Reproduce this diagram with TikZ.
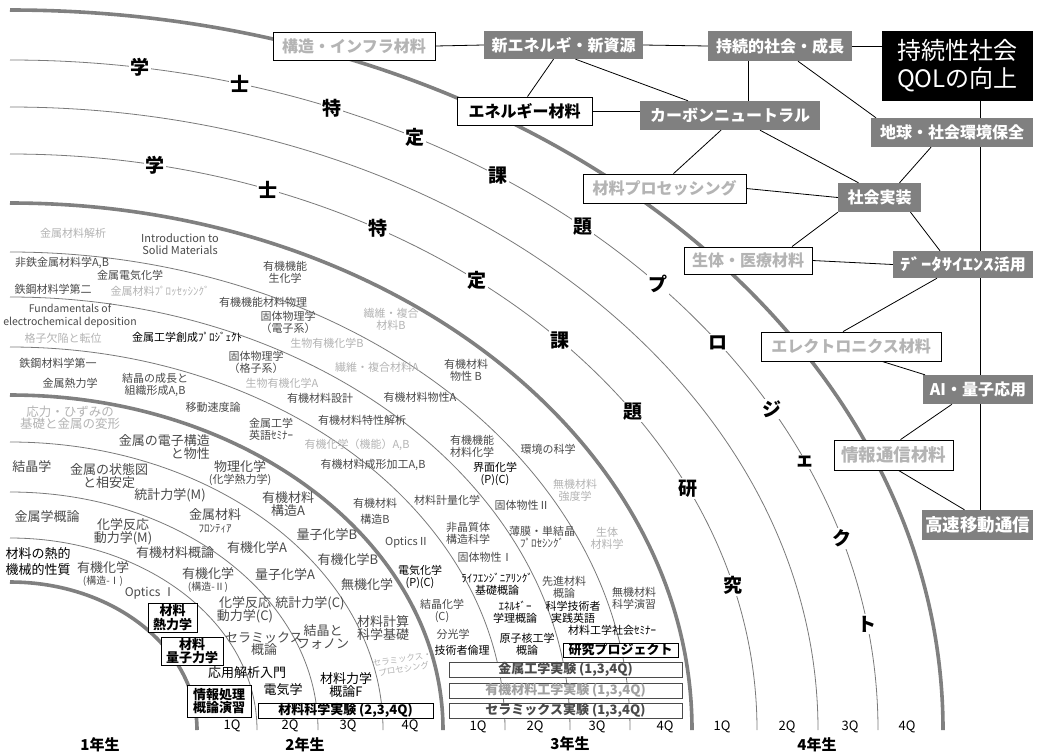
\documentclass[tikz,border=0pt]{standalone}
\usepackage{fontspec}
\setmainfont{Noto Sans CJK JP}
\usetikzlibrary{calc}
\definecolor{dk}{HTML}{4A4A4A}
\definecolor{lt}{HTML}{B4B4B4}
\definecolor{gb}{HTML}{808080}
\definecolor{arcc}{HTML}{7A7A7A}
\newcommand\archar[5]{\node[bigch] (#1) at ({10+#2*cos(#4)},{730-#3*sin(#4)}) {#5};}
\newcommand\ringarc[3]{\draw[#3] ({10+#1},730) arc[start angle=0,end angle=-90,x radius=#1,y radius=#2];}
\begin{document}
\begin{tikzpicture}[x=1pt,y=-1pt,
 thinarc/.style={draw=arcc, line width=0.8pt},
 thickarc/.style={draw=gb, line width=3.6pt},
 t/.style={inner sep=0pt, align=center, text=dk, font=\fontsize{11}{12}\selectfont},
 tL/.style={t, font=\fontsize{13}{12.5}\selectfont},
 bigch/.style={fill=white, inner sep=1.5pt, font=\fontsize{19}{19}\selectfont\bfseries, text=black},
 gbx/.style={fill=gb, text=white, inner sep=0pt, font=\fontsize{16}{16}\selectfont\bfseries},
 wbx/.style={draw=black, line width=0.8pt, fill=white, text=lt, inner sep=0pt, font=\fontsize{16}{16}\selectfont\bfseries},
 cbx/.style={draw=black, line width=1pt, fill=white, text=black, inner sep=0pt, align=center, font=\fontsize{13}{13.5}\selectfont\bfseries},
 xbx/.style={draw=dk, line width=0.8pt, fill=white, inner sep=0pt, minimum width=233, minimum height=15, font=\fontsize{13}{13}\selectfont\bfseries},
 edge/.style={draw=black, line width=0.8pt},
 ql/.style={inner sep=0pt, font=\fontsize{13}{13}\selectfont, text=black},
 yl/.style={inner sep=0pt, font=\fontsize{15}{15}\selectfont\bfseries, text=black}
]
\useasboundingbox (0,0) rectangle (1040,753);
\fill[white] (0,0) rectangle (1040,753);

% ---- rings ----
\ringarc{868}{670}{thinarc}
\ringarc{808}{623}{thinarc}
\ringarc{747}{576}{thinarc}
\ringarc{620}{478}{thinarc}
\ringarc{560}{433}{thinarc}
\ringarc{495}{383}{thinarc}
\ringarc{373}{288}{thinarc}
\ringarc{308}{238}{thinarc}
\ringarc{247}{192}{thinarc}
\ringarc{933}{720}{thickarc}
\ringarc{682}{527}{thickarc}
\ringarc{433}{335}{thickarc}
\ringarc{187}{148}{thickarc}

% ---- arc characters ----
\archar{a01}{868}{670}{81.4}{学}
\archar{a02}{868}{670}{74.6}{士}
\archar{a03}{868}{670}{68.2}{特}
\archar{a04}{868}{670}{62.2}{定}
\archar{a05}{868}{670}{55.8}{課}
\archar{a06}{868}{670}{48.7}{題}
\archar{a07}{868}{670}{41.7}{プ}
\archar{a08}{868}{670}{35.3}{ロ}
\archar{a09}{868}{670}{28.6}{ジ}
\archar{a10}{868}{670}{23.6}{ェ}
\archar{a11}{868}{670}{16.6}{ク}
\archar{a12}{868}{670}{9.1}{ト}
\archar{b01}{747}{576}{78.8}{学}
\archar{b02}{747}{576}{69.8}{士}
\archar{b03}{747}{576}{60.5}{特}
\archar{b04}{747}{576}{51.3}{定}
\archar{b05}{747}{576}{42.6}{課}
\archar{b06}{747}{576}{33.5}{題}
\archar{b07}{747}{576}{24.8}{研}
\archar{b08}{747}{576}{14.5}{究}

% ---- outer ring courses ----
\node[t,text=lt] (c01) at (73,233) {金属材料解析};
\node[t] (c02) at (180,244) {Introduction to\\Solid Materials};
\node[t] (c03) at (62,263) {非鉄金属材料学A,B};
\node[t] (c04) at (130,275) {金属電気化学};
\node[t] (c05) at (53,289) {鉄鋼材料学第二};
\node[t,text=lt] (c06) at (160,291) {金属材料ﾌﾟﾛｯｾｯｼﾝｸﾞ};
\node[t] (c07) at (263,302) {有機機能材料物理};
\node[t,font=\fontsize{10.5}{12.5}\selectfont] (c08) at (70,316) {Fundamentals of\\electrochemical deposition};
\node[t,text=lt] (c09) at (63,338) {格子欠陥と転位};
\node[t,text=black] (c10) at (187,337) {金属工学創成ﾌﾟﾛｼﾞｪｸﾄ};
\node[t] (c11) at (256,362) {固体物理学\\（格子系）};
\node[t] (c12) at (58,363) {鉄鋼材料学第一};
\node[t] (c13) at (70,383) {金属熱力学};
\node[t] (c14) at (155,385) {結晶の成長と\\組織形成A,B};
\node[t] (c15) at (213,407) {移動速度論};
\node[t,font=\fontsize{12.5}{12.5}\selectfont,text=lt] (c16) at (70,418) {応力・ひずみの\\基礎と金属の変形};
\node[t] (c17) at (285,272) {有機機能\\生化学};
\node[t] (c18) at (288,322) {固体物理学\\（電子系）};
\node[t,text=lt] (c19) at (391,319) {繊維・複合\\材料B};
\node[t,text=lt] (c20) at (327,343) {生物有機化学B};
\node[t,text=lt] (c21) at (377,367) {繊維・複合材料A};
\node[t,text=lt] (c22) at (282,383) {生物有機化学A};
\node[t] (c23) at (320,398) {有機材料設計};
\node[t] (c24) at (420,397) {有機材料物性A};
\node[t] (c25) at (271,429) {金属工学\\英語ｾﾐﾅｰ};
\node[t] (c26) at (362,420) {有機材料特性解析};
\node[t,text=lt] (c27) at (357,445) {有機化学（機能）A,B};
\node[t] (c28) at (373,465) {有機材料成形加工A,B};
\node[t] (c29) at (466,370) {有機材料\\物性 B};
\node[t] (c30) at (472,446) {有機機能\\材料化学};
\node[t] (c31) at (548,449) {環境の科学};
\node[t,text=black] (c32) at (495,474) {界面化学\\(P)(C)};
\node[t,text=lt] (c33) at (575,490) {無機材料\\強度学};
\node[t] (c34) at (447,500) {材料計量化学};
\node[t] (c35) at (522,505) {固体物性Ⅱ};
\node[t] (c36) at (375,511) {有機材料\\[4pt]構造B};
\node[t] (c37) at (407,542) {OpticsⅡ};
\node[t] (c38) at (468,533) {非晶質体\\構造科学};
\node[t] (c39) at (542,537) {薄膜・単結晶\\ﾌﾟﾛｾｼﾝｸﾞ};
\node[t,text=lt] (c40) at (607,538) {生体\\材料学};
\node[t] (c41) at (485,557) {固体物性Ⅰ};
\node[t,text=black] (c42) at (497,584) {ﾗｲﾌｴﾝｼﾞﾆｱﾘﾝｸﾞ\\基礎概論};
\node[t] (c43) at (564,587) {先進材料\\概論};
\node[t] (c44) at (634,598) {無機材料\\科学演習};
\node[t] (c45) at (442,611) {結晶化学\\(C)};
\node[t,text=black] (c46) at (515,612) {ｴﾈﾙｷﾞｰ\\学理概論};
\node[t,text=black] (c47) at (573,612) {科学技術者\\実践英語};
\node[t,text=black] (c48) at (612,630) {材料工学社会ｾﾐﾅｰ};
\node[t] (c49) at (453,634) {分光学};
\node[t,text=black] (c50) at (462,650) {技術者倫理};
\node[t,text=black] (c51) at (527,644) {原子核工学\\概論};
\node[t,text=black] (c52) at (420,577) {電気化学\\(P)(C)};

% ---- 2nd year ----
\node[tL,align=right,anchor=east] (d01) at (210,447) {金属の電子構造\\と物性};
\node[tL] (d02) at (32,467) {結晶学};
\node[tL] (d03) at (109,476) {金属の状態図\\と相安定};
\node[tL] (d04) at (240,473) {物理化学\\{\fontsize{11}{11}\selectfont (化学熱力学)}};
\node[tL] (d05) at (170,495) {統計力学(M)};
\node[tL] (d06) at (47,517) {金属学概論};
\node[tL] (d07) at (215,521) {金属材料\\{\fontsize{11}{11}\selectfont ﾌﾛﾝﾃｨｱ}};
\node[tL] (d08) at (123,532) {化学反応\\動力学(M)};
\node[tL,text=black,font=\fontsize{13}{16}\selectfont] (d09) at (38,562) {材料の熱的\\機械的性質};
\node[tL] (d10) at (175,553) {有機材料概論};
\node[tL] (d11) at (103,574) {有機化学\\{\fontsize{10}{10}\selectfont (構造-Ⅰ)}};
\node[tL] (d12) at (257,548) {有機化学A};
\node[tL] (d13) at (208,580) {有機化学\\{\fontsize{10}{10}\selectfont (構造-Ⅱ)}};
\node[tL,font=\fontsize{12}{12}\selectfont] (d14) at (150,593) {Optics Ⅰ};
\node[tL] (d15) at (285,575) {量子化学A};
\node[tL] (d16) at (245,610) {化学反応\\動力学(C)};
\node[tL] (d17) at (310,603) {統計力学(C)};
\node[tL] (d18) at (264,644) {セラミックス\\概論};
\node[tL] (d19) at (323,637) {結晶と\\フォノン};
\node[tL] (d20) at (383,628) {材料計算\\科学基礎};
\node[tL] (d21) at (367,585) {無機化学};
\node[tL] (d22) at (327,535) {量子化学B};
\node[tL] (d23) at (348,560) {有機化学B};
\node[tL] (d24) at (288,504) {有機材料\\構造A};
\node[tL,text=black] (d25) at (247,673) {応用解析入門};
\node[tL,text=black] (d26) at (283,690) {電気学};
\node[tL,text=black] (d27) at (346,685) {材料力学\\概論F};
\node[t,text=lt,font=\fontsize{8.5}{10}\selectfont,rotate=9] (d28) at (403,664) {セラミックス・\\プロセシング};

% ---- course boxes ----
\node[cbx,minimum width=49,minimum height=29] (m1) at (172.5,617.5) {材料\\熱力学};
\node[cbx,minimum width=62,minimum height=28] (m2) at (192,651) {材料\\量子力学};
\node[cbx,minimum width=64,minimum height=32] (m3) at (219,701) {情報処理\\概論演習};
\node[cbx,minimum width=175,minimum height=15] (m4) at (345.5,710.5) {材料科学実験 (2,3,4Q)};
\node[cbx,minimum width=115,minimum height=14] (m5) at (620.5,650) {研究プロジェクト};
\node[xbx,text=dk] (x1) at (565.5,669.5) {金属工学実験 (1,3,4Q)};
\node[xbx,text=gb!75] (x2) at (565.5,690.5) {有機材料工学実験 (1,3,4Q)};
\node[xbx,text=dk] (x3) at (565.5,710.5) {セラミックス実験 (1,3,4Q)};

% ---- quarter and year labels ----
\node[ql] (q21) at (232,726) {1Q};
\node[ql] (q22) at (290,726) {2Q};
\node[ql] (q23) at (348,726) {3Q};
\node[ql] (q24) at (410,726) {4Q};
\node[ql] (q31) at (478,727) {1Q};
\node[ql] (q32) at (535,727) {2Q};
\node[ql] (q33) at (597,727) {3Q};
\node[ql] (q34) at (665,727) {4Q};
\node[ql] (q41) at (722,727) {1Q};
\node[ql] (q42) at (787,727) {2Q};
\node[ql] (q43) at (850,727) {3Q};
\node[ql] (q44) at (907,727) {4Q};
\node[yl] (y1) at (100,745) {1年生};
\node[yl] (y2) at (305,745) {2年生};
\node[yl] (y3) at (570,744) {3年生};
\node[yl] (y4) at (817,745) {4年生};

% ---- network ----
\node[wbx,minimum width=162,minimum height=28] (kozo) at (354,46) {構造・インフラ材料};
\node[gbx,minimum width=159,minimum height=28] (sinE) at (563.5,45) {新エネルギ・新資源};
\node[wbx,text=black,minimum width=135,minimum height=28] (ene) at (524.5,111) {エネルギー材料};
\node[gbx,minimum width=144,minimum height=30] (jzk) at (780,46) {持続的社会・成長};
\node[fill=black,text=white,inner sep=0pt,minimum width=151,minimum height=70,align=center,font=\fontsize{24}{28}\selectfont] (qol) at (957.5,66) {持続性社会\\QOLの向上};
\node[gbx,minimum width=180,minimum height=29] (kbn) at (730,115.5) {カーボンニュートラル};
\node[gbx,minimum width=162,minimum height=29] (chk) at (952,132.5) {地球・社会環境保全};
\node[wbx,minimum width=163,minimum height=29] (prc) at (664.5,188.5) {材料プロセッシング};
\node[gbx,minimum width=83,minimum height=29] (shj) at (879.5,197.5) {社会実装};
\node[wbx,minimum width=128,minimum height=27] (smi) at (748,260.5) {生体・医療材料};
\node[gbx,minimum width=140,minimum height=27] (ds) at (963,264.5) {\scalebox{1.3}[1]{ﾃﾞｰﾀｻｲｴﾝｽ}活用};
\node[wbx,minimum width=180,minimum height=29] (elc) at (851,346.5) {エレクトロニクス材料};
\node[gbx,minimum width=110,minimum height=29] (ai) at (978,389.5) {AI・量子応用};
\node[wbx,font=\fontsize{17.5}{17.5}\selectfont\bfseries,minimum width=119,minimum height=30] (jt) at (893.5,455) {情報通信材料};
\node[gbx,font=\fontsize{17.5}{17.5}\selectfont\bfseries,minimum width=111,minimum height=30] (ksk) at (977.5,525) {高速移動通信};
\coordinate (vx) at (980,0);

\draw[edge] (kozo.east) -- (sinE.west);
\draw[edge] (sinE.east) -- (jzk.west);
\draw[edge] (jzk.east) -- (jzk.east -| qol.west);
\draw[edge] ($(sinE.south)+(-10,0)$) -- ($(ene.north)+(3,0)$);
\draw[edge] ($(sinE.south)+(12,0)$) -- ($(kbn.north)+(-42,0)$);
\draw[edge] (ene.east) -- (ene.east -| kbn.west);
\draw[edge] ($(jzk.south)+(-32,0)$) -- ($(kbn.north)+(18,0)$);
\draw[edge] ($(jzk.south)+(18,0)$) -- ($(chk.north)+(-76,0)$);
\draw[edge] (qol.south -| vx) -- (chk.north -| vx);
\draw[edge] (chk.south -| vx) -- (ds.north -| vx);
\draw[edge] (ds.south -| vx) -- (ai.north -| vx);
\draw[edge] (ai.south -| vx) -- (ksk.north -| vx);
\draw[edge] ($(kbn.south)+(-9,0)$) -- ($(prc.north)+(9,0)$);
\draw[edge] ($(kbn.south)+(30,0)$) -- ($(shj.north)+(-21,0)$);
\draw[edge] ($(chk.south)+(-21,0)$) -- ($(shj.north)+(20,0)$);
\draw[edge] (prc.east) -- (shj.west);
\draw[edge] (shj.south west) -- ($(smi.north)+(44,0)$);
\draw[edge] ($(shj.south)+(31,0)$) -- ($(ds.north)+(-23,0)$);
\draw[edge] (smi.east) -- (ds.west);
\draw[edge] ($(ds.south)+(-26,0)$) -- ($(elc.north)+(-8,0)$);
\draw[edge] ($(elc.south)+(31,0)$) -- ($(ai.north)+(-53,0)$);
\draw[edge] ($(ai.south)+(-26,0)$) -- ($(jt.north)+(7,0)$);
\draw[edge] ($(jt.south)+(5,0)$) -- ($(ksk.north)+(-13,0)$);
\end{tikzpicture}
\end{document}
